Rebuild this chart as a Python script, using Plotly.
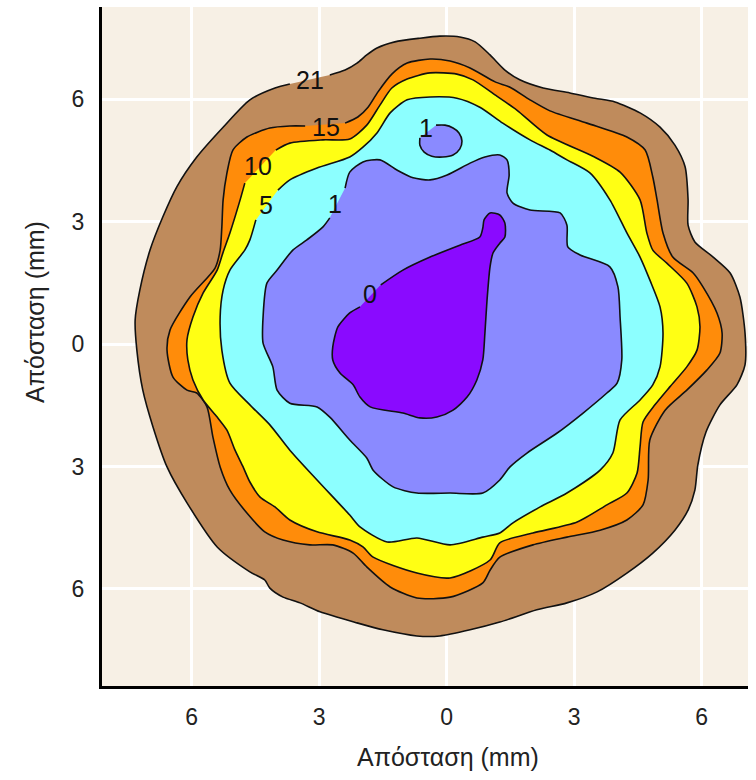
import plotly.graph_objects as go

# ---------------- data (mm) ----------------
# Each contour boundary, traced clockwise, starting just after its label and
# ending just before it (the gap is where the label sits).
c21_x = [-2.75, -2.39, -2.11, -1.88, -1.64, -1.22, -0.63, -0.16, 0.31, 0.67, 1.02, 1.37, 1.72, 2.27, 2.90, 3.49, 3.96,
         4.55, 5.02, 5.37, 5.61, 5.68, 5.68, 5.84, 6.27, 6.67, 6.90, 7.02, 7.02, 6.83, 6.43, 6.10, 5.91, 5.84, 5.68,
         5.37, 4.85, 4.24, 3.54, 2.83, 2.12, 1.25, 0.55, -0.16, -0.70, -1.50, -2.11, -2.98, -3.45, -3.85, -4.16, -4.28,
         -4.63, -5.40, -6.11, -6.58, -6.91, -7.15, -7.29, -7.33, -7.22, -6.98, -6.68, -6.35, -5.88, -5.26, -4.63,
         -4.04, -3.69]
c21_y = [6.59, 6.71, 6.88, 7.08, 7.25, 7.40, 7.49, 7.54, 7.52, 7.40, 7.08, 6.71, 6.47, 6.27, 6.15, 6.02, 5.93,
         5.66, 5.31, 4.87, 4.34, 3.53, 2.91, 2.50, 2.13, 1.74, 1.15, 0.27, -0.51, -1.00, -1.49, -2.16, -2.96, -3.58,
         -4.07, -4.56, -5.12, -5.61, -6.07, -6.34, -6.51, -6.81, -7.00, -7.15, -7.15, -7.00, -6.83, -6.56, -6.34,
         -6.20, -5.98, -5.78, -5.58, -4.97, -3.89, -3.01, -2.03, -1.13, -0.15, 0.59, 1.32, 2.30, 3.11, 3.85, 4.58,
         5.31, 5.98, 6.27, 6.37]

c15_x = [-2.39, -2.09, -1.85, -1.62, -1.29, -0.93, -0.39, 0.08, 0.55, 1.14, 1.49, 1.96, 2.43, 3.30, 4.24, 4.67, 4.85,
         4.95, 5.09, 5.32, 5.80, 6.03, 6.36, 6.48, 6.43, 6.12, 5.65, 5.14, 4.78, 4.74, 4.62, 4.24, 3.61, 2.83, 2.03,
         1.25, 1.02, 0.85, 0.08, -0.70, -1.33, -1.88, -2.20, -2.68, -3.22, -3.85, -4.28, -4.70, -5.10, -5.33, -5.50,
         -5.64, -5.88, -6.11, -6.44, -6.58, -6.51, -6.04, -5.45, -5.33, -5.29, -5.26, -5.17, -5.03, -4.70, -4.16,
         -3.69, -3.33]
c15_y = [5.41, 5.56, 5.80, 6.17, 6.61, 6.88, 6.98, 6.93, 6.76, 6.42, 6.29, 5.98, 5.71, 5.41, 5.07, 4.75, 4.09,
         3.53, 2.72, 2.13, 1.74, 1.40, 0.76, 0.27, -0.22, -0.64, -1.13, -1.62, -2.35, -3.33, -3.94, -4.31, -4.56,
         -4.73, -4.92, -5.22, -5.54, -5.85, -6.20, -6.22, -5.95, -5.46, -5.12, -4.92, -4.92, -4.80, -4.60, -4.14,
         -3.58, -3.01, -2.28, -1.54, -1.20, -1.13, -0.81, -0.15, 0.34, 1.15, 1.86, 2.30, 2.87, 3.53, 4.19, 4.75,
         5.07, 5.29, 5.34, 5.34]

c10_x = [-4.02, -3.69, -2.91, -2.28, -1.88, -1.57, -1.29, -0.93, -0.39, 0.24, 0.62, 1.18, 1.65, 2.36, 3.44, 4.08,
         4.55, 4.71, 4.85, 5.18, 5.65, 5.89, 5.96, 5.89, 5.65, 5.25, 4.90, 4.62, 4.55, 4.48, 4.24, 3.77, 3.07, 2.03,
         1.25, 1.02, 0.08, -0.70, -1.73, -1.97, -2.28, -3.05, -3.69, -4.04, -4.39, -4.63, -4.79, -4.98, -5.17, -5.40,
         -5.73, -5.97, -6.09, -6.11, -5.97, -5.73, -5.40, -5.26, -5.10, -4.86, -4.75]
c10_y = [4.75, 4.92, 5.00, 5.02, 5.36, 5.85, 6.27, 6.49, 6.64, 6.61, 6.47, 6.07, 5.73, 5.12, 4.60, 4.21, 3.53,
         2.72, 2.30, 1.98, 1.49, 0.91, 0.42, -0.15, -0.56, -1.05, -1.49, -1.91, -2.52, -3.16, -3.65, -3.94, -4.36,
         -4.63, -4.87, -5.29, -5.73, -5.61, -5.22, -4.97, -4.80, -4.60, -4.31, -3.99, -3.75, -3.38, -3.01, -2.60,
         -2.11, -1.79, -1.37, -0.88, -0.39, 0.10, 0.66, 1.25, 1.81, 2.25, 2.72, 3.53, 3.94]

c5_x = [-3.97, -3.69, -3.05, -2.28, -1.97, -1.64, -1.33, -0.93, -0.39, 0.24, 0.78, 1.32, 1.96, 2.43, 2.83, 3.37,
        3.84, 4.24, 4.55, 4.78, 5.02, 5.09, 5.02, 4.85, 4.55, 4.08, 3.91, 3.61, 2.83, 2.20, 1.56, 1.25, 0.85, 0.08,
        -0.70, -1.40, -2.04, -2.28, -3.05, -3.69, -4.16, -4.63, -5.10, -5.29, -5.33, -5.26, -5.10, -4.75, -4.63,
        -4.49]
c5_y = [3.77, 4.02, 4.31, 4.58, 4.82, 5.17, 5.66, 5.98, 6.05, 6.02, 5.80, 5.41, 5.00, 4.75, 4.51, 4.19, 3.53,
        2.72, 2.13, 1.57, 0.91, 0.27, -0.56, -1.00, -1.37, -1.86, -2.67, -3.09, -3.65, -3.99, -4.38, -4.63, -4.73,
        -4.92, -4.75, -4.85, -4.48, -4.19, -3.33, -2.60, -1.98, -1.49, -0.96, -0.15, 0.66, 1.32, 1.81, 2.30, 2.55,
        3.04]

c1_x = [-2.39, -2.28, -1.97, -1.57, -1.17, -0.79, -0.39, 0.01, 0.55, 0.90, 1.25, 1.42, 1.47, 1.42, 1.56, 1.96,
        2.67, 2.83, 2.85, 3.14, 3.84, 4.03, 4.08, 4.12, 4.01, 3.77, 3.21, 2.60, 1.89, 1.49, 1.25, 0.85, 0.08, -0.70,
        -1.26, -1.73, -1.88, -2.28, -2.75, -3.05, -3.69, -3.99, -4.09, -4.32, -4.32, -4.23, -3.99, -3.62, -3.29,
        -2.91, -2.75]
c1_y = [3.82, 4.21, 4.46, 4.51, 4.26, 4.07, 4.02, 4.14, 4.43, 4.58, 4.63, 4.51, 4.14, 3.70, 3.45, 3.28, 3.21,
        2.91, 2.38, 2.18, 1.89, 1.40, 0.66, -0.39, -0.96, -1.20, -1.69, -2.18, -2.67, -3.01, -3.33, -3.65, -3.65,
        -3.65, -3.50, -3.09, -2.79, -2.35, -1.79, -1.54, -1.45, -1.13, -0.56, 0.02, 0.66, 1.49, 1.81, 2.30, 2.55,
        2.87, 3.09]

c1b_x = [-0.25, -0.04, 0.15, 0.29, 0.36, 0.31, 0.15, -0.09, -0.35, -0.53, -0.63, -0.63]
c1b_y = [5.36, 5.36, 5.29, 5.17, 4.97, 4.78, 4.63, 4.58, 4.60, 4.70, 4.87, 5.05]

c0_x = [-1.55, -1.03, -0.39, 0.31, 0.78, 0.85, 0.88, 1.02, 1.25, 1.37, 1.37, 1.25, 1.09, 1.02, 0.95, 0.90, 0.85,
        0.71, 0.48, 0.15, -0.23, -0.63, -1.03, -1.80, -2.04, -2.20, -2.51, -2.68, -2.68, -2.56, -2.28, -2.04]
c0_y = [1.45, 1.81, 2.13, 2.42, 2.62, 2.84, 3.04, 3.21, 3.16, 2.96, 2.62, 2.47, 2.23, 1.89, 1.08, 0.27, -0.39,
        -0.88, -1.30, -1.62, -1.79, -1.81, -1.69, -1.54, -1.30, -1.00, -0.71, -0.39, -0.07, 0.42, 0.76, 0.91]

contour_labels = ["21", "15", "10", "5", "1", "1", "0"]
label_x = [-3.22, -2.84, -4.44, -4.25, -2.63, -0.49, -1.80]
label_y = [6.47, 5.31, 4.36, 3.40, 3.43, 5.29, 1.22]

tick_vals = [-6, -3, 0, 3, 6]
tick_text = ["6", "3", "0", "3", "6"]
axis_title = "Απόσταση (mm)"

# ---------------- style ----------------
fill_colors = ["#bf8b5c", "#ff8c0a", "#ffff14", "#8cffff", "#8a8aff", "#8a8aff", "#8a0aff"]
bg = "#f7f0e5"
font_family = "Liberation Sans, Arial, sans-serif"

contours = [(c21_x, c21_y), (c15_x, c15_y), (c10_x, c10_y), (c5_x, c5_y),
            (c1_x, c1_y), (c1b_x, c1b_y), (c0_x, c0_y)]

fig = go.Figure()
for (cx, cy), col in zip(contours, fill_colors):
    fig.add_trace(go.Scatter(x=cx, y=cy, mode="lines", fill="toself", fillcolor=col,
                             line=dict(width=0, shape="spline", smoothing=0.7),
                             hoverinfo="skip", showlegend=False))
    fig.add_trace(go.Scatter(x=cx, y=cy, mode="lines",
                             line=dict(color="#111111", width=1.6, shape="spline", smoothing=0.7),
                             hoverinfo="skip", showlegend=False))

for t, lx, ly in zip(contour_labels, label_x, label_y):
    fig.add_annotation(x=lx, y=ly, text=t, showarrow=False,
                       font=dict(family=font_family, size=25, color="#111111"))

# axis titles (placed as annotations to match the original's offsets)
fig.add_annotation(xref="paper", yref="paper", x=0.536, y=-0.1046, text=axis_title,
                   showarrow=False, xanchor="center", yanchor="middle",
                   font=dict(family=font_family, size=25, color="#222222"))
fig.add_annotation(xref="paper", yref="paper", x=-0.1037, y=0.551, text=axis_title,
                   showarrow=False, xanchor="center", yanchor="middle", textangle=-90,
                   font=dict(family=font_family, size=25, color="#222222"))

fig.update_layout(
    width=756, height=780,
    margin=dict(l=102, r=8, t=7, b=94, autoexpand=False),
    paper_bgcolor="white", plot_bgcolor=bg,
    font=dict(family=font_family, size=23, color="#222222"),
    showlegend=False,
)
fig.update_xaxes(range=[-8.11, 7.09], tickvals=tick_vals, ticktext=tick_text,
                 tickfont=dict(family=font_family, size=23, color="#222222"),
                 showgrid=True, gridcolor="white", gridwidth=3, zeroline=False,
                 showline=True, linecolor="black", linewidth=3, ticks="",
                 ticklabelstandoff=8, automargin=False)
fig.update_yaxes(range=[-8.376, 8.254], tickvals=tick_vals, ticktext=tick_text,
                 tickfont=dict(family=font_family, size=23, color="#222222"),
                 showgrid=True, gridcolor="white", gridwidth=3, zeroline=False,
                 showline=True, linecolor="black", linewidth=3, ticks="",
                 ticklabelstandoff=10, automargin=False)

fig.write_html("out.html", config={"displayModeBar": False},
               post_script="document.body.style.margin='0';document.body.style.padding='0';")
